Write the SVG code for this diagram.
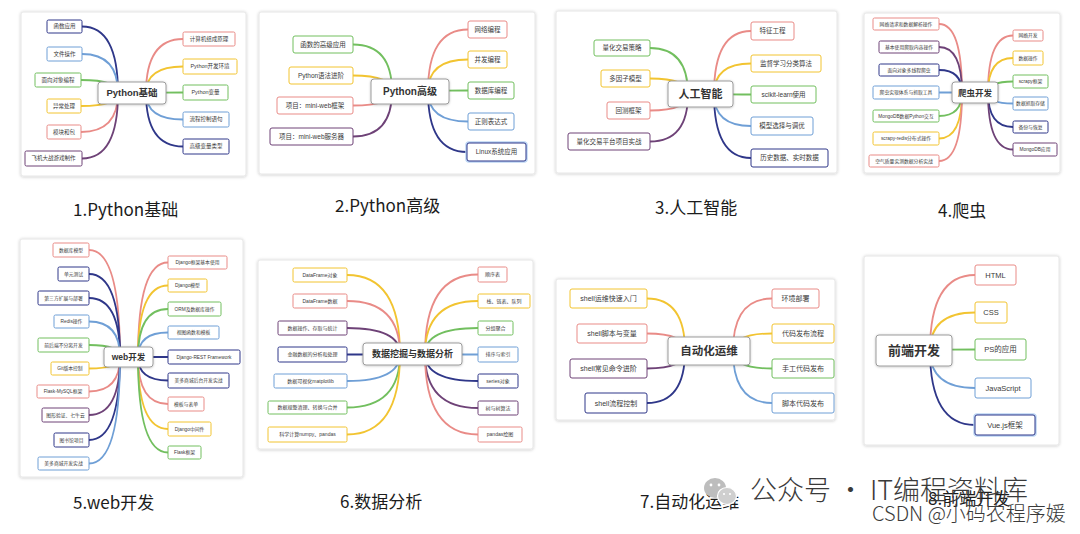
<svg xmlns="http://www.w3.org/2000/svg" width="1080" height="534" viewBox="0 0 1080 534">
<defs>
<filter id="sh" x="-5%" y="-5%" width="110%" height="110%">
<feDropShadow dx="0" dy="0.5" stdDeviation="1.6" flood-color="#000" flood-opacity="0.22"/>
</filter>
<filter id="csh" x="-10%" y="-20%" width="120%" height="140%">
<feDropShadow dx="0" dy="0.5" stdDeviation="0.8" flood-color="#000" flood-opacity="0.25"/>
</filter>
<style>
.pn{fill:#fff;stroke:#e6e6e6;stroke-width:1;filter:url(#sh)}
.nd{fill:#fff;stroke-width:1}
.cn{fill:#fff;stroke:#9c9c9c;stroke-width:1;filter:url(#csh)}
.ln{fill:none;stroke-width:1.8;stroke-linecap:round}
.gl{fill:none;stroke:#bcd5f3;stroke-width:3.5}
.r{stroke:#e98b87}.y{stroke:#f2c431}.g{stroke:#72bf5f}.b{stroke:#6f9fd6}.n{stroke:#2f3789}.p{stroke:#6e4277}
text{font-family:"Liberation Sans","Noto Sans CJK SC",sans-serif;fill:#3a3a3a;text-anchor:middle}
.ct{font-weight:bold;fill:#333}
.cap{text-anchor:start;font-family:"Noto Sans CJK SC",sans-serif;fill:#1c1c1c;font-size:17px}
.wm{text-anchor:start;font-family:"Noto Sans CJK SC",sans-serif;font-weight:300}
</style>
</defs>
<rect width="1080" height="534" fill="#fff"/>

<!-- panel frames -->
<g id="frames">
<rect class="pn" x="21" y="12" width="225" height="164" rx="2"/>
<rect class="pn" x="259" y="12" width="276" height="162" rx="2"/>
<rect class="pn" x="556" y="11" width="281" height="162" rx="2"/>
<rect class="pn" x="864" y="13" width="196" height="160" rx="2"/>
<rect class="pn" x="20" y="239" width="223" height="238" rx="2"/>
<rect class="pn" x="258" y="260" width="275" height="189" rx="2"/>
<rect class="pn" x="556" y="279" width="279" height="141" rx="2"/>
<rect class="pn" x="864" y="256" width="195" height="189" rx="2"/>
</g>

<!-- branch connectors -->
<g id="links">
<!-- 1 Python基础 -->
<path class="ln n" d="M118,93 Q118,26.5 82,26.5"/>
<path class="ln b" d="M118,93 Q118,54 82,54"/>
<path class="ln g" d="M118,93 Q118,80 81,80"/>
<path class="ln y" d="M118,93 Q118,106 81,106"/>
<path class="ln r" d="M118,93 Q118,132 81,132"/>
<path class="ln p" d="M118,93 Q118,158.5 82,158.5"/>
<path class="ln r" d="M146,93 Q146,39 183,39"/>
<path class="ln y" d="M146,93 Q146,66.5 183,66.5"/>
<path class="ln g" d="M146,93 Q146,92.5 183,92.5"/>
<path class="ln b" d="M146,93 Q146,119.5 183,119.5"/>
<path class="ln n" d="M146,93 Q146,146.5 183,146.5"/>
<!-- 2 Python高级 -->
<path class="ln g" d="M392,91.5 Q392,44.5 353,44.5"/>
<path class="ln y" d="M392,91.5 Q392,75.5 353,75.5"/>
<path class="ln r" d="M392,91.5 Q392,105.5 353,105.5"/>
<path class="ln p" d="M392,91.5 Q392,136.5 353,136.5"/>
<path class="ln r" d="M428,91.5 Q428,29.5 468,29.5"/>
<path class="ln y" d="M428,91.5 Q428,59.5 468,59.5"/>
<path class="ln g" d="M428,91.5 Q428,90.5 468,90.5"/>
<path class="ln b" d="M428,91.5 Q428,121.5 468,121.5"/>
<path class="ln n" d="M428,91.5 Q428,152 467,152"/>
<!-- 3 人工智能 -->
<path class="ln g" d="M688,94 Q688,48 650,48"/>
<path class="ln y" d="M688,94 Q688,78.5 650,78.5"/>
<path class="ln r" d="M688,94 Q688,110.5 650,110.5"/>
<path class="ln p" d="M688,94 Q688,141.5 650,141.5"/>
<path class="ln r" d="M714,94 Q714,31 751,31"/>
<path class="ln y" d="M714,94 Q714,63.5 751,63.5"/>
<path class="ln g" d="M714,94 Q714,94.5 751,94.5"/>
<path class="ln b" d="M714,94 Q714,126 751,126"/>
<path class="ln n" d="M714,94 Q714,158 751,158"/>
<!-- 4 爬虫开发 -->
<path class="ln r" d="M962,92.5 Q962,24 939,24"/>
<path class="ln p" d="M962,92.5 Q962,47 939,47"/>
<path class="ln n" d="M962,92.5 Q962,70 939,70"/>
<path class="ln b" d="M962,92.5 Q962,92.5 939,92.5"/>
<path class="ln g" d="M962,92.5 Q962,116 939,116"/>
<path class="ln y" d="M962,92.5 Q962,138.5 939,138.5"/>
<path class="ln r" d="M962,92.5 Q962,161 939,161"/>
<path class="ln r" d="M988,92.5 Q988,35.5 1013,35.5"/>
<path class="ln y" d="M988,92.5 Q988,58 1013,58"/>
<path class="ln g" d="M988,92.5 Q988,81.5 1013,81.5"/>
<path class="ln b" d="M988,92.5 Q988,103.5 1013,103.5"/>
<path class="ln n" d="M988,92.5 Q988,127 1013,127"/>
<path class="ln p" d="M988,92.5 Q988,149.5 1013,149.5"/>
<!-- 5 web开发 -->
<path class="ln r" d="M120,357 Q120,250 89,250"/>
<path class="ln n" d="M120,357 Q120,274 89,274"/>
<path class="ln n" d="M120,357 Q120,298 89,298"/>
<path class="ln b" d="M120,357 Q120,321.5 89,321.5"/>
<path class="ln g" d="M120,357 Q120,345 89,345"/>
<path class="ln y" d="M120,357 Q120,368.5 89,368.5"/>
<path class="ln r" d="M120,357 Q120,391.5 89,391.5"/>
<path class="ln p" d="M120,357 Q120,415 89,415"/>
<path class="ln n" d="M120,357 Q120,440 89,440"/>
<path class="ln b" d="M120,357 Q120,463.5 89,463.5"/>
<path class="ln r" d="M138,357 Q138,262.5 168,262.5"/>
<path class="ln y" d="M138,357 Q138,285.5 168,285.5"/>
<path class="ln g" d="M138,357 Q138,309 168,309"/>
<path class="ln b" d="M138,357 Q138,332.5 168,332.5"/>
<path class="ln n" d="M138,357 Q138,357 168,357"/>
<path class="ln n" d="M138,357 Q138,380.5 168,380.5"/>
<path class="ln r" d="M138,357 Q138,404 168,404"/>
<path class="ln y" d="M138,357 Q138,429 168,429"/>
<path class="ln g" d="M138,357 Q138,452.5 168,452.5"/>
<!-- 6 数据挖掘与数据分析 -->
<path class="ln y" d="M400,354 Q400,275 347,275"/>
<path class="ln r" d="M400,354 Q400,301 347,301"/>
<path class="ln p" d="M400,354 Q400,328 347,328"/>
<path class="ln n" d="M400,354 Q400,354.5 347,354.5"/>
<path class="ln b" d="M400,354 Q400,381 347,381"/>
<path class="ln g" d="M400,354 Q400,407.5 347,407.5"/>
<path class="ln y" d="M400,354 Q400,434.5 347,434.5"/>
<path class="ln r" d="M425,354 Q425,274.5 478,274.5"/>
<path class="ln y" d="M425,354 Q425,301 478,301"/>
<path class="ln g" d="M425,354 Q425,328 478,328"/>
<path class="ln b" d="M425,354 Q425,354.5 478,354.5"/>
<path class="ln n" d="M425,354 Q425,381 478,381"/>
<path class="ln p" d="M425,354 Q425,408 478,408"/>
<path class="ln r" d="M425,354 Q425,434.5 478,434.5"/>
<!-- 7 自动化运维 -->
<path class="ln y" d="M685,351 Q685,298.5 647,298.5"/>
<path class="ln r" d="M685,351 Q685,333.5 647,333.5"/>
<path class="ln p" d="M685,351 Q685,368.5 647,368.5"/>
<path class="ln n" d="M685,351 Q685,403 647,403"/>
<path class="ln r" d="M733,351 Q733,298.5 772,298.5"/>
<path class="ln y" d="M733,351 Q733,333.5 772,333.5"/>
<path class="ln g" d="M733,351 Q733,368.5 772,368.5"/>
<path class="ln b" d="M733,351 Q733,403 772,403"/>
<!-- 8 前端开发 -->
<path class="ln r" d="M930,350.5 Q930,275 975,275"/>
<path class="ln y" d="M930,350.5 Q930,312.5 975,312.5"/>
<path class="ln g" d="M930,350.5 Q930,349.5 975,349.5"/>
<path class="ln b" d="M930,350.5 Q930,388 975,388"/>
<path class="ln n" d="M930,350.5 Q930,425 975,425"/>
</g>

<!-- 1 Python基础 -->
<g id="m1" font-size="5.5">
<g id="m1-c"><rect class="cn" x="98" y="82" width="68" height="22" rx="3"/><text class="ct" x="132" y="96.3" font-size="9.5">Python基础</text></g>
<g id="m1-l1"><rect class="nd n" x="47" y="20" width="35" height="13" rx="1.5"/><text x="64.5" y="28.4">函数应用</text></g>
<g id="m1-l2"><rect class="nd b" x="47" y="47" width="35" height="14" rx="1.5"/><text x="64.5" y="55.9">文件操作</text></g>
<g id="m1-l3"><rect class="nd g" x="35" y="73" width="46" height="14" rx="1.5"/><text x="58" y="81.9">面向对象编程</text></g>
<g id="m1-l4"><rect class="nd y" x="47" y="99" width="34" height="14" rx="1.5"/><text x="64" y="107.9">异常处理</text></g>
<g id="m1-l5"><rect class="nd r" x="47" y="125" width="34" height="14" rx="1.5"/><text x="64" y="133.9">模块和包</text></g>
<g id="m1-l6"><rect class="nd p" x="25" y="151" width="57" height="15" rx="1.5"/><text x="53.5" y="160.4">飞机大战游戏制作</text></g>
<g id="m1-r1"><rect class="nd r" x="183" y="32" width="52" height="14" rx="1.5"/><text x="209" y="40.9">计算机组成原理</text></g>
<g id="m1-r2"><rect class="nd y" x="183" y="59" width="54" height="15" rx="1.5"/><text x="210" y="68.4">Python开发环境</text></g>
<g id="m1-r3"><rect class="nd g" x="183" y="85" width="45" height="15" rx="1.5"/><text x="205.5" y="94.4">Python变量</text></g>
<g id="m1-r4"><rect class="nd b" x="183" y="112" width="46" height="15" rx="1.5"/><text x="206" y="121.4">流程控制语句</text></g>
<g id="m1-r5"><rect class="nd n" x="183" y="139" width="46" height="15" rx="1.5"/><text x="206" y="148.4">高级变量类型</text></g>
</g>

<!-- 2 Python高级 -->
<g id="m2" font-size="6.5">
<g id="m2-c"><rect class="cn" x="371" y="79" width="78" height="25" rx="3"/><text class="ct" x="410" y="95" font-size="10">Python高级</text></g>
<g id="m2-l1"><rect class="nd g" x="293" y="36" width="60" height="17" rx="2"/><text x="323" y="46.8">函数的高级应用</text></g>
<g id="m2-l2"><rect class="nd y" x="289" y="67" width="64" height="17" rx="2"/><text x="321" y="77.8">Python语法进阶</text></g>
<g id="m2-l3"><rect class="nd r" x="277" y="97" width="76" height="17" rx="2"/><text x="315" y="107.8">项目：mini-web框架</text></g>
<g id="m2-l4"><rect class="nd p" x="270" y="128" width="83" height="17" rx="2"/><text x="311.5" y="138.8">项目：mini-web服务器</text></g>
<g id="m2-r1"><rect class="nd r" x="468" y="21" width="39" height="17" rx="2"/><text x="487.5" y="31.8">网络编程</text></g>
<g id="m2-r2"><rect class="nd y" x="468" y="51" width="39" height="17" rx="2"/><text x="487.5" y="61.8">并发编程</text></g>
<g id="m2-r3"><rect class="nd g" x="468" y="82" width="46" height="17" rx="2"/><text x="491" y="92.8">数据库编程</text></g>
<g id="m2-r4"><rect class="nd b" x="468" y="113" width="46" height="17" rx="2"/><text x="491" y="123.8">正则表达式</text></g>
<g id="m2-r5"><rect class="gl" x="467" y="143" width="59" height="18" rx="2"/><rect class="nd n" x="467" y="143" width="59" height="18" rx="2" stroke-width="1.5"/><text x="496.5" y="154.3">Linux系统应用</text></g>
</g>

<!-- 3 人工智能 -->
<g id="m3" font-size="6.5">
<g id="m3-c"><rect class="cn" x="668" y="81" width="65" height="26" rx="3"/><text class="ct" x="700.5" y="97.9" font-size="11">人工智能</text></g>
<g id="m3-l1"><rect class="nd g" x="594" y="40" width="56" height="16" rx="2"/><text x="622" y="50.3">量化交易策略</text></g>
<g id="m3-l2"><rect class="nd y" x="601" y="70" width="49" height="17" rx="2"/><text x="625.5" y="80.8">多因子模型</text></g>
<g id="m3-l3"><rect class="nd r" x="607" y="102" width="43" height="17" rx="2"/><text x="628.5" y="112.8">回测框架</text></g>
<g id="m3-l4"><rect class="nd p" x="568" y="133" width="82" height="17" rx="2"/><text x="609" y="143.8">量化交易平台项目实战</text></g>
<g id="m3-r1"><rect class="nd r" x="751" y="22" width="43" height="18" rx="2"/><text x="772.5" y="33.3">特征工程</text></g>
<g id="m3-r2"><rect class="nd y" x="751" y="55" width="70" height="17" rx="2"/><text x="786" y="65.8">监督学习分类算法</text></g>
<g id="m3-r3"><rect class="nd g" x="751" y="86" width="65" height="17" rx="2"/><text x="783.5" y="96.8">scikit-learn使用</text></g>
<g id="m3-r4"><rect class="nd b" x="751" y="117" width="62" height="18" rx="2"/><text x="782" y="128.3">模型选择与调优</text></g>
<g id="m3-r5"><rect class="nd n" x="751" y="149" width="77" height="18" rx="2"/><text x="789.5" y="160.3">历史数据、实时数据</text></g>
</g>

<!-- 4 爬虫开发 -->
<g id="m4" font-size="4.8">
<g id="m4-c"><rect class="cn" x="952" y="82" width="46" height="21" rx="3"/><text class="ct" x="975" y="95.7" font-size="8.5">爬虫开发</text></g>
<g id="m4-l1"><rect class="nd r" x="873" y="18" width="66" height="12" rx="1.5"/><text x="906" y="25.7">网络请求和数据解析操作</text></g>
<g id="m4-l2"><rect class="nd p" x="879" y="41" width="60" height="12" rx="1.5"/><text x="909" y="48.7">基本使用爬取内容操作</text></g>
<g id="m4-l3"><rect class="nd n" x="879" y="64" width="60" height="12" rx="1.5"/><text x="909" y="71.7">面向对象多线程爬虫</text></g>
<g id="m4-l4"><rect class="nd b" x="873" y="86" width="66" height="13" rx="1.5"/><text x="906" y="94.2">爬虫实现体系与抓取工具</text></g>
<g id="m4-l5"><rect class="nd g" x="873" y="110" width="66" height="12" rx="1.5"/><text x="906" y="117.7">MongoDB数据Python交互</text></g>
<g id="m4-l6"><rect class="nd y" x="873" y="132" width="66" height="13" rx="1.5"/><text x="906" y="140.2">scrapy-redis分布式操作</text></g>
<g id="m4-l7"><rect class="nd r" x="869" y="155" width="70" height="12" rx="1.5"/><text x="904" y="162.7">空气质量实测数据分析实战</text></g>
<g id="m4-r1"><rect class="nd r" x="1013" y="30" width="30" height="11" rx="1.5"/><text x="1028" y="37.2">网络开发</text></g>
<g id="m4-r2"><rect class="nd y" x="1013" y="51" width="30" height="14" rx="1.5"/><text x="1028" y="59.7">数据操作</text></g>
<g id="m4-r3"><rect class="nd g" x="1013" y="75" width="35" height="13" rx="1.5"/><text x="1030.5" y="83.2">scrapy框架</text></g>
<g id="m4-r4"><rect class="nd b" x="1013" y="97" width="35" height="13" rx="1.5"/><text x="1030.5" y="105.2">数据抓取存储</text></g>
<g id="m4-r5"><rect class="nd n" x="1013" y="121" width="35" height="12" rx="1.5"/><text x="1030.5" y="128.7">备份与恢复</text></g>
<g id="m4-r6"><rect class="nd p" x="1013" y="143" width="44" height="13" rx="1.5"/><text x="1035" y="151.2">MongoDB应用</text></g>
</g>

<!-- 5 web开发 -->
<g id="m5" font-size="4.8">
<g id="m5-c"><rect class="cn" x="104" y="347" width="49" height="20" rx="3"/><text class="ct" x="128.5" y="360" font-size="8.5">web开发</text></g>
<g id="m5-l1"><rect class="nd r" x="53" y="243" width="36" height="14" rx="1.5"/><text x="71" y="251.7">数据库模型</text></g>
<g id="m5-l2"><rect class="nd n" x="58" y="267" width="31" height="14" rx="1.5"/><text x="73.5" y="275.7">单元测试</text></g>
<g id="m5-l3"><rect class="nd n" x="38" y="291" width="51" height="14" rx="1.5"/><text x="63.5" y="299.7">第三方扩展与部署</text></g>
<g id="m5-l4"><rect class="nd b" x="54" y="315" width="35" height="13" rx="1.5"/><text x="71.5" y="323.2">Redis操作</text></g>
<g id="m5-l5"><rect class="nd g" x="38" y="338" width="51" height="14" rx="1.5"/><text x="63.5" y="346.7">前后端不分离开发</text></g>
<g id="m5-l6"><rect class="nd y" x="51" y="362" width="38" height="13" rx="1.5"/><text x="70" y="370.2">Git版本控制</text></g>
<g id="m5-l7"><rect class="nd r" x="37" y="385" width="52" height="13" rx="1.5"/><text x="63" y="393.2">Flask-MySQL框架</text></g>
<g id="m5-l8"><rect class="nd p" x="42" y="408" width="47" height="14" rx="1.5"/><text x="65.5" y="416.7">图形验证、七牛云</text></g>
<g id="m5-l9"><rect class="nd n" x="54" y="433" width="35" height="14" rx="1.5"/><text x="71.5" y="441.7">图书馆项目</text></g>
<g id="m5-l10"><rect class="nd b" x="38" y="457" width="51" height="13" rx="1.5"/><text x="63.5" y="465.2">美多商城开发实战</text></g>
<g id="m5-r1"><rect class="nd r" x="168" y="256" width="59" height="13" rx="1.5"/><text x="197.5" y="264.2">Django框架基本使用</text></g>
<g id="m5-r2"><rect class="nd y" x="168" y="279" width="39" height="13" rx="1.5"/><text x="187.5" y="287.2">Django模型</text></g>
<g id="m5-r3"><rect class="nd g" x="168" y="302" width="53" height="14" rx="1.5"/><text x="194.5" y="310.7">ORM及数据库操作</text></g>
<g id="m5-r4"><rect class="nd b" x="168" y="326" width="51" height="13" rx="1.5"/><text x="193.5" y="334.2">视图函数和模板</text></g>
<g id="m5-r5"><rect class="nd n" x="168" y="350" width="72" height="14" rx="1.5"/><text x="204" y="358.7">Django-REST Framework</text></g>
<g id="m5-r6"><rect class="nd n" x="168" y="373" width="61" height="15" rx="1.5"/><text x="198.5" y="382.2">美多商城后台开发实战</text></g>
<g id="m5-r7"><rect class="nd r" x="168" y="397" width="36" height="14" rx="1.5"/><text x="186" y="405.7">模板与表单</text></g>
<g id="m5-r8"><rect class="nd y" x="168" y="422" width="43" height="14" rx="1.5"/><text x="189.5" y="430.7">Django中间件</text></g>
<g id="m5-r9"><rect class="nd g" x="168" y="446" width="33" height="13" rx="1.5"/><text x="184.5" y="454.2">Flask框架</text></g>
</g>

<!-- 6 数据挖掘与数据分析 -->
<g id="m6" font-size="5">
<g id="m6-c"><rect class="cn" x="363" y="343" width="99" height="22" rx="3"/><text class="ct" x="412.5" y="357.2" font-size="9">数据挖掘与数据分析</text></g>
<g id="m6-l1"><rect class="nd y" x="293" y="268" width="54" height="14" rx="1.5"/><text x="320" y="276.8">DataFrame对象</text></g>
<g id="m6-l2"><rect class="nd r" x="293" y="294" width="54" height="14" rx="1.5"/><text x="320" y="302.8">DataFrame数据</text></g>
<g id="m6-l3"><rect class="nd p" x="278" y="321" width="69" height="14" rx="1.5"/><text x="312.5" y="329.8">数据操作、存取与统计</text></g>
<g id="m6-l4"><rect class="nd n" x="278" y="347" width="69" height="15" rx="1.5"/><text x="312.5" y="356.3">金融数据的分析和处理</text></g>
<g id="m6-l5"><rect class="nd b" x="274" y="374" width="73" height="14" rx="1.5"/><text x="310.5" y="382.8">数据可视化matplotlib</text></g>
<g id="m6-l6"><rect class="nd g" x="268" y="401" width="79" height="13" rx="1.5"/><text x="307.5" y="409.3">数据规整清理、转换与合并</text></g>
<g id="m6-l7"><rect class="nd y" x="268" y="427" width="79" height="15" rx="1.5"/><text x="307.5" y="436.3">科学计算numpy、pandas</text></g>
<g id="m6-r1"><rect class="nd r" x="478" y="267" width="29" height="15" rx="1.5"/><text x="492.5" y="276.3">顺序表</text></g>
<g id="m6-r2"><rect class="nd y" x="478" y="294" width="52" height="14" rx="1.5"/><text x="504" y="302.8">栈、链表、队列</text></g>
<g id="m6-r3"><rect class="nd g" x="478" y="321" width="35" height="14" rx="1.5"/><text x="495.5" y="329.8">分组聚合</text></g>
<g id="m6-r4"><rect class="nd b" x="478" y="347" width="40" height="15" rx="1.5"/><text x="498" y="356.3">排序与索引</text></g>
<g id="m6-r5"><rect class="nd n" x="478" y="374" width="40" height="14" rx="1.5"/><text x="498" y="382.8">series对象</text></g>
<g id="m6-r6"><rect class="nd p" x="478" y="401" width="40" height="14" rx="1.5"/><text x="498" y="409.8">树与树算法</text></g>
<g id="m6-r7"><rect class="nd r" x="478" y="427" width="44" height="15" rx="1.5"/><text x="500" y="436.3">pandas绘图</text></g>
</g>

<!-- 7 自动化运维 -->
<g id="m7" font-size="7">
<g id="m7-c"><rect class="cn" x="668" y="337" width="82" height="28" rx="3"/><text class="ct" x="709" y="355" font-size="11.5">自动化运维</text></g>
<g id="m7-l1"><rect class="nd y" x="570" y="289" width="77" height="19" rx="2"/><text x="608.5" y="301">shell运维快速入门</text></g>
<g id="m7-l2"><rect class="nd r" x="577" y="324" width="70" height="19" rx="2"/><text x="612" y="336">shell脚本与变量</text></g>
<g id="m7-l3"><rect class="nd p" x="570" y="359" width="77" height="19" rx="2"/><text x="608.5" y="371">shell常见命令进阶</text></g>
<g id="m7-l4"><rect class="nd n" x="585" y="393" width="62" height="20" rx="2"/><text x="616" y="405.5">shell流程控制</text></g>
<g id="m7-r1"><rect class="nd r" x="772" y="289" width="47" height="19" rx="2"/><text x="795.5" y="301">环境部署</text></g>
<g id="m7-r2"><rect class="nd y" x="772" y="324" width="62" height="19" rx="2"/><text x="803" y="336">代码发布流程</text></g>
<g id="m7-r3"><rect class="nd g" x="772" y="359" width="62" height="19" rx="2"/><text x="803" y="371">手工代码发布</text></g>
<g id="m7-r4"><rect class="nd b" x="772" y="393" width="62" height="20" rx="2"/><text x="803" y="405.5">脚本代码发布</text></g>
</g>

<!-- 8 前端开发 -->
<g id="m8" font-size="7.5">
<g id="m8-c"><rect class="cn" x="876" y="335" width="76" height="31" rx="3"/><text class="ct" x="914" y="355" font-size="13">前端开发</text></g>
<g id="m8-r1"><rect class="nd r" x="975" y="265" width="41" height="20" rx="2"/><text x="995.5" y="277.6">HTML</text></g>
<g id="m8-r2"><rect class="nd y" x="975" y="302" width="32" height="21" rx="2"/><text x="991" y="315.1">CSS</text></g>
<g id="m8-r3"><rect class="nd g" x="975" y="339" width="51" height="21" rx="2"/><text x="1000.5" y="352.1">PS的应用</text></g>
<g id="m8-r4"><rect class="nd b" x="975" y="378" width="56" height="20" rx="2"/><text x="1003" y="390.6">JavaScript</text></g>
<g id="m8-r5"><rect class="gl" x="975" y="415" width="60" height="20" rx="2"/><rect class="nd n" x="975" y="415" width="60" height="20" rx="2" stroke-width="1.5"/><text x="1005" y="427.6">Vue.js框架</text></g>
</g>

<!-- captions -->
<g id="captions">
<text class="cap" x="73" y="216">1.Python基础</text>
<text class="cap" x="335" y="212">2.Python高级</text>
<text class="cap" x="655" y="214">3.人工智能</text>
<text class="cap" x="938" y="217">4.爬虫</text>
<text class="cap" x="73" y="509">5.web开发</text>
<text class="cap" x="340" y="508">6.数据分析</text>
<text class="cap" x="640" y="508">7.自动化运维</text>
<text class="cap" x="928" y="505">8.前端开发</text>
</g>

<!-- account marks -->
<g id="marks">
<ellipse cx="715" cy="488" rx="11" ry="10" fill="#bdbdbd"/>
<circle cx="711" cy="485" r="1.4" fill="#fff"/>
<circle cx="719" cy="485" r="1.4" fill="#fff"/>
<ellipse cx="727" cy="496" rx="9.5" ry="8.5" fill="#cfcfcf" stroke="#fff" stroke-width="1.2"/>
<circle cx="724" cy="494" r="1.1" fill="#fff"/>
<circle cx="730" cy="494" r="1.1" fill="#fff"/>
<text class="wm" x="750" y="500" font-size="27" fill="#c6c6c6">公众号 · IT编程资料库</text>
<text class="wm" x="872" y="521" font-size="20" fill="#b3b3b3">CSDN @小码农程序媛</text>
</g>
</svg>
